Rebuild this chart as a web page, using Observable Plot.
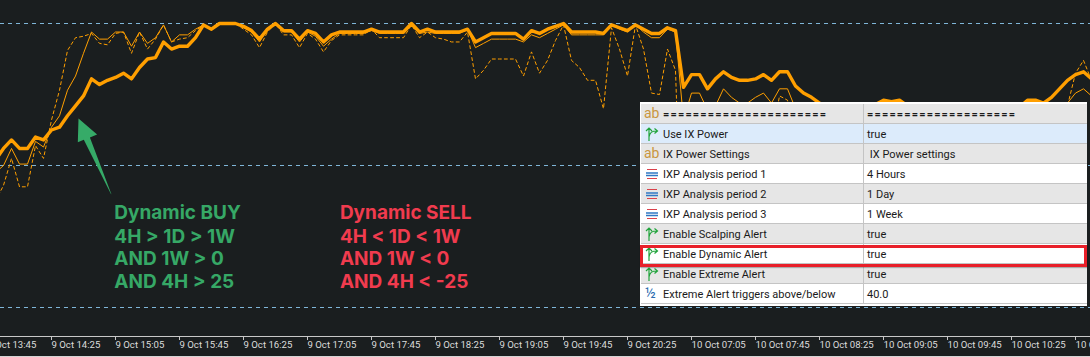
<!DOCTYPE html>
<html><head><meta charset="utf-8">
<script src="https://cdn.jsdelivr.net/npm/d3@7"></script>
<script src="https://cdn.jsdelivr.net/npm/@observablehq/plot@0.6"></script>
<style>
html,body{margin:0;padding:0;background:#1a1e1f;overflow:hidden}
#wrap{position:relative;width:1090px;height:357px;overflow:hidden}
#wrap svg.plot{display:block}
#panel{position:absolute;left:640px;top:102px;width:447px;background:#fff;padding:2px 0 2px 1px;box-sizing:border-box;font:11px Roboto,sans-serif;color:#1a1a1a}
.row{position:relative;height:20px;box-sizing:border-box;border-bottom:1px solid #c4c4c4;line-height:21px;white-space:pre}
.row span{position:absolute;top:0}
.row .ic{left:2px;width:18px;height:19px}
.row .lb{left:22px}
.row .vl{left:226px}
.row .dv{left:222px;top:0;width:1px;height:20px;background:#c4c4c4}
.row .sep{font-weight:700;letter-spacing:1.15px}
#hl{position:absolute;left:640px;top:245px;width:447px;height:22px;box-sizing:border-box;border:3px solid #e8202a;box-shadow:0 1px 1px rgba(0,0,0,.25)}
</style></head><body>
<div id="wrap"></div>
<script>
// Bar index 0 sits just left of the window; one reading per 5-minute bar.
const power4H = [4,12,18,12,12,20,18,25,27,35,
 42,49,61,57,60,62,65,61,69,75,
 76,87,82,84,84,90,99,96,100,100,
 100,98,95,89,96,100,95,95,89,95,
 93,87,92,94,94,94,94,96,94,94,
 94,94,100,94,96,94,94,94,94,96,
 87,90,93,93,93,93,89,95,93,96,
 98,100,94,94,94,94,93,99,97,95,
 99,96,93,93,97,95,55,64,64,54,
 61,66,62,60,60,61,64,60,66,66,
 56,51,48,44,39,33,37,33,35,40,
 43,46,45,46,42,35,30,33,37,32,
 27,33,39,34,32,37,39,35,41,46,
 46,44,48,54,60,64,66,61];
const power1D = [-5,0,12,1,1,17,13,27,35,53,
 63,79,94,89,89,94,94,84,94,86,
 90,99,87,92,92,96,99,96,100,100,
 100,97,94,87,96,100,94,94,87,94,
 91,84,89,93,93,93,93,95,93,93,
 93,93,99,93,94,93,93,93,93,96,
 83,86,89,89,89,89,87,92,90,93,
 96,99,92,92,92,92,92,99,96,94,
 99,94,90,90,96,94,32,51,51,39,
 42,54,48,44,44,48,51,44,54,54,
 40,28,25,18,11,7,12,7,11,18,
 26,33,32,33,28,18,11,14,21,12,
 7,14,21,16,12,18,23,18,25,32,
 33,32,35,37,44,51,54,49];
const power1W = [-25,-14,5,-15,-15,14,5,32,53,81,
 90,91,93,86,85,93,94,79,94,82,
 89,99,87,89,90,95,99,96,100,100,
 100,96,92,83,94,100,92,92,83,93,
 89,80,88,92,92,92,92,96,90,90,
 90,90,99,90,94,90,89,87,87,94,
 61,67,75,75,75,75,63,80,65,74,
 88,99,74,69,60,60,40,97,82,63,
 99,82,51,50,82,67,-99,-60,-25,-53,
 -46,-11,-32,-46,-53,-39,-25,18,49,46,
 18,-99,-74,-53,-60,-74,-99,-74,-53,-39,
 -18,-4,-11,-4,-18,-46,-67,-60,-39,-60,
 -74,-60,-39,-53,-67,-81,-99,-60,-25,-11,
 -4,-11,-4,11,42,65,74,60];
const levels = [100,0,-100];
const tickBars = [-1,7,15,23,31,39,47,55,63,71,79,87,95,103,111,119,127,135];
const tickLabels = ["9 Oct 13:45","9 Oct 14:25","9 Oct 15:05","9 Oct 15:45","9 Oct 16:25","9 Oct 17:05","9 Oct 17:45","9 Oct 18:25","9 Oct 19:05","9 Oct 19:45","9 Oct 20:25","10 Oct 07:05","10 Oct 07:45","10 Oct 08:25","10 Oct 09:05","10 Oct 09:45","10 Oct 10:25","10 Oct 11:05"];
const buyLines = ["Dynamic BUY","4H > 1D > 1W","AND 1W > 0","AND 4H > 25"];
const sellLines = ["Dynamic SELL","4H < 1D < 1W","AND 1W < 0","AND 4H < -25"];
const noteLevels = [-33.5,-50,-66,-82];
const arrowBars = [10.375,12.7,11.8,14.5,14.4,11.04,10.29,10.375];
const arrowPower = [33.1,21.8,19.7,-20.4,-19.7,18.1,16.4,33.1];
const rowLabels = ["======================","Use IX Power","IX Power Settings","IXP Analysis period 1","IXP Analysis period 2","IXP Analysis period 3","Enable Scalping Alert","Enable Dynamic Alert","Enable Extreme Alert","Extreme Alert triggers above/below"];
const rowValues = ["====================","true"," IX Power settings","4 Hours","1 Day","1 Week","true","true","true","40.0"];
const rowIcons = ["ab","bool","ab","enum","enum","enum","bool","bool","bool","half"];
const rowFills = ["#e6e6e6","#dcebfb","#e6e6e6","#ffffff","#e6e6e6","#ffffff","#e6e6e6","#ffffff","#e6e6e6","#ffffff"];

const bars = power4H.map((_, i) => i);
const orange = "#ff9f00";
const ticks = tickBars.map((b, i) => ({b, label: tickLabels[i]}));
const arrow = arrowBars.map((b, i) => ({b, v: arrowPower[i]}));
const noteFont = {fontFamily:"Inter, sans-serif", fontWeight:700, fontSize:19, textAnchor:"start", lineAnchor:"middle"};
const axisLevel = -120.5;
const bottomEdge = -134.5;

const chart = Plot.plot({
  width:1090, height:357, margin:0,
  style:{background:"#1a1e1f", overflow:"hidden"},
  x:{domain:[0,137], range:[-5,1091], axis:null},
  y:{domain:[-100,100], range:[307,23], axis:null},
  marks:[
    Plot.ruleY(levels,{stroke:"#7fb6d8",strokeWidth:1,strokeDasharray:"4,4",shapeRendering:"crispEdges"}),
    Plot.lineY(power1W,{x:bars,stroke:orange,strokeWidth:1,strokeDasharray:"3,3"}),
    Plot.lineY(power1D,{x:bars,stroke:orange,strokeWidth:1}),
    Plot.lineY(power4H,{x:bars,stroke:orange,strokeWidth:3.4}),
    Plot.line(arrow,{x:"b",y:"v",fill:"#36ab68",stroke:"none"}),
    Plot.text(buyLines,{x:()=>14.85,y:(d,i)=>noteLevels[i],text:d=>d,fill:"#36a866",...noteFont}),
    Plot.text(sellLines,{x:()=>43.05,y:(d,i)=>noteLevels[i],text:d=>d,fill:"#f03b4e",...noteFont}),
    Plot.ruleY([axisLevel],{stroke:"#c8c8c8",strokeWidth:1,shapeRendering:"crispEdges"}),
    Plot.ruleX(ticks,{x:"b",y1:axisLevel,y2:axisLevel-3,stroke:"#c8c8c8",strokeWidth:1,shapeRendering:"crispEdges"}),
    Plot.ruleY([bottomEdge],{stroke:"#d4d4d4",strokeWidth:1,shapeRendering:"crispEdges"}),
    Plot.text(ticks,{x:"b",y:()=>axisLevel-5.6,text:"label",fill:"#dcdcdc",textAnchor:"start",lineAnchor:"middle",fontFamily:"Roboto, sans-serif",fontSize:9.6})
  ]
});
const wrap = document.getElementById("wrap");
wrap.appendChild(chart);

const icons = {
  ab:'<span class="ic" style="color:#c9963f;font-size:14px;line-height:18px;left:3px">ab</span>',
  half:'<span class="ic" style="color:#2b6cb0;font-size:14px;line-height:19px;left:4px">½</span>',
  enum:'<span class="ic"><svg width="18" height="19"><path d="M4 5.5h10M4 14.5h10" stroke="#d9414a" stroke-width="1.2"/><path d="M3 9h12M3 11.5h12" stroke="#2f78c4" stroke-width="1.4"/></svg></span>',
  bool:'<span class="ic"><svg width="18" height="19" fill="none" stroke="#21a43c" stroke-width="1.2"><path d="M6 17V4M3 7l3-3 3 3M6 13c1-5 3-6 8-6M11.5 4.5 14.5 7l-3 2.5"/></svg></span>'
};
const panel = document.createElement("div");
panel.id = "panel";
rowLabels.forEach((lab,i)=>{
  const r = document.createElement("div");
  r.className = "row";
  r.style.background = rowFills[i];
  r.innerHTML = icons[rowIcons[i]];
  const a = document.createElement("span"); a.className = i ? "lb" : "lb sep"; a.textContent = lab;
  const d = document.createElement("span"); d.className="dv";
  const b = document.createElement("span"); b.className = i ? "vl" : "vl sep"; b.textContent = rowValues[i];
  r.append(a,d,b);
  panel.appendChild(r);
});
wrap.appendChild(panel);
const hl = document.createElement("div"); hl.id="hl"; wrap.appendChild(hl);
</script></body></html>
